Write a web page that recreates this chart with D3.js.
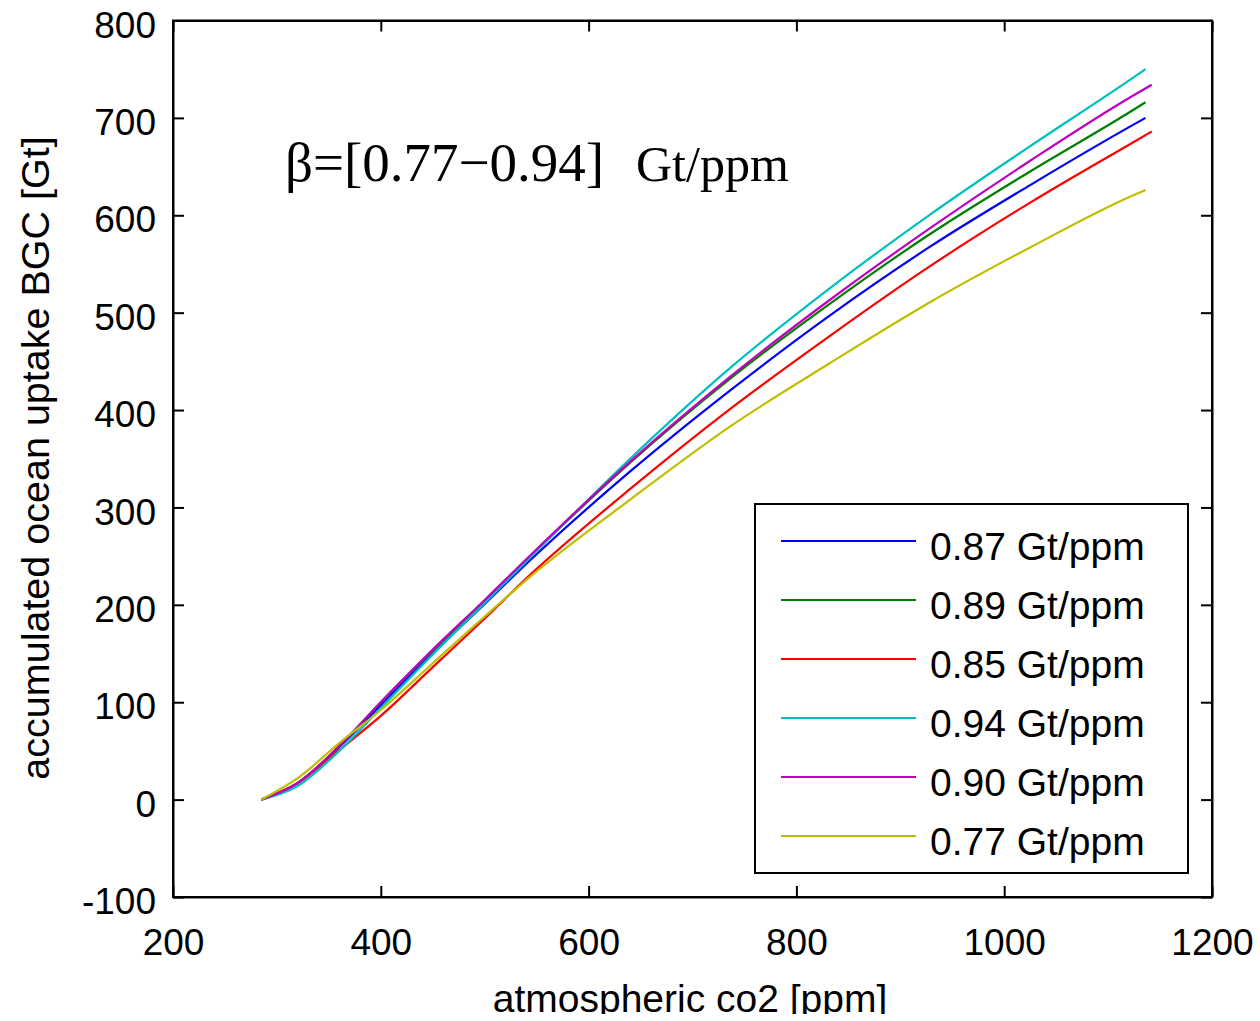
<!DOCTYPE html>
<html>
<head>
<meta charset="UTF-8">
<title>ocean uptake</title>
<script src="https://d3js.org/d3.v7.min.js"></script>
<style>
  * { margin: 0; padding: 0; }
  body { background: #fff; font-family: "Liberation Sans", Arial, sans-serif; }
  .axis text { font-family: "Liberation Sans", Arial, sans-serif; font-size: 37px; fill: #000; }
  .axis line, .axis path { stroke: #000; stroke-width: 2px; }
</style>
</head>
<body>
<div id="chart"></div>
<script>
// co2 grid (ppm) shared by all runs; last point of each run is at endCo2
const co2 = [285, 320, 360, 400, 450, 500, 545, 640, 736, 832, 929, 1025, 1121];
const endCo2 = [1136, 1136, 1142, 1136, 1142, 1136];

const labels = ["0.87 Gt/ppm", "0.89 Gt/ppm", "0.85 Gt/ppm", "0.94 Gt/ppm", "0.90 Gt/ppm", "0.77 Gt/ppm"];
const colors = ["#0000ff", "#008000", "#ff0000", "#00bfbf", "#bf00bf", "#bfbf00"];

const uptake087 = [0, 17, 54, 97, 150, 201, 247, 337, 420, 497, 568, 631, 691, 700];
const uptake089 = [0, 17, 55, 100, 153, 204, 251, 346, 432, 509, 581, 645, 706, 716];
const uptake085 = [0, 17, 51, 86, 136, 186, 232, 319, 401, 476, 548, 613, 673, 686];
const uptake094 = [0, 14, 50, 94, 149, 202, 250, 350, 443, 525, 601, 671, 739, 750];
const uptake090 = [0, 17, 55, 100, 154, 205, 252, 347, 434, 513, 587, 656, 721, 734];
const uptake077 = [0, 22, 58, 92, 140, 188, 230, 308, 383, 448, 511, 567, 619, 626];

const series = [uptake087, uptake089, uptake085, uptake094, uptake090, uptake077];

const xTicks = [200, 400, 600, 800, 1000, 1200];
const yTicks = [-100, 0, 100, 200, 300, 400, 500, 600, 700, 800];

const W = 1260, H = 1021;
const plotL = 173, plotR = 1212, plotT = 20.5, plotB = 897;

const svg = d3.select("#chart").append("svg")
  .attr("width", W).attr("height", H);

svg.append("rect").attr("width", W).attr("height", H).attr("fill", "#fff");

const x = d3.scaleLinear().domain([200, 1200]).range([plotL, plotR]);
const y = d3.scaleLinear().domain([-100, 800]).range([plotB, plotT]);

// curves
const line = d3.line()
  .x(d => x(d[0]))
  .y(d => y(d[1]))
  .curve(d3.curveMonotoneX);

series.forEach((vals, i) => {
  const pts = vals.map((v, j) => [j < co2.length ? co2[j] : endCo2[i], v]);
  svg.append("path")
    .datum(pts)
    .attr("d", line)
    .attr("fill", "none")
    .attr("stroke", colors[i])
    .attr("stroke-width", 2.2);
});

// axes, ticks pointing inward on all four sides
svg.append("g").attr("class", "axis")
  .attr("transform", `translate(0,${plotB})`)
  .call(d3.axisBottom(x).tickValues(xTicks).tickSizeInner(-11).tickSizeOuter(0)
    .tickPadding(32).tickFormat(d => String(d)))
  .selectAll("text").attr("dy", "0.71em");

svg.append("g").attr("class", "axis")
  .attr("transform", `translate(0,${plotT})`)
  .call(d3.axisTop(x).tickValues(xTicks).tickSizeInner(-11).tickSizeOuter(0).tickFormat(""));

svg.append("g").attr("class", "axis")
  .attr("transform", `translate(${plotL},0)`)
  .call(d3.axisLeft(y).tickValues(yTicks).tickSizeInner(-11).tickSizeOuter(0)
    .tickPadding(17).tickFormat(d => String(d)))
  .selectAll("text").attr("dy", "0.45em");

svg.append("g").attr("class", "axis")
  .attr("transform", `translate(${plotR},0)`)
  .call(d3.axisRight(y).tickValues(yTicks).tickSizeInner(-11).tickSizeOuter(0).tickFormat(""));

svg.append("rect")
  .attr("x", plotL).attr("y", plotT)
  .attr("width", plotR - plotL).attr("height", plotB - plotT)
  .attr("fill", "none").attr("stroke", "#000").attr("stroke-width", 2);

// annotation
const ann = svg.append("text")
  .attr("y", 181)
  .style("font-family", "'Liberation Serif', 'Times New Roman', serif")
  .style("fill", "#000");
ann.append("tspan").attr("x", 285).style("font-size", "55px").text("β=[0.77−0.94]");
ann.append("tspan").attr("x", 636).style("font-size", "50px").text("Gt/ppm");

// legend
const lg = svg.append("g");
lg.append("rect")
  .attr("x", 755).attr("y", 504).attr("width", 433).attr("height", 369)
  .attr("fill", "#fff").attr("stroke", "#000").attr("stroke-width", 2);

labels.forEach((lab, i) => {
  const ly = 541 + i * 59;
  lg.append("line")
    .attr("x1", 781).attr("x2", 916).attr("y1", ly).attr("y2", ly)
    .attr("stroke", colors[i]).attr("stroke-width", 2);
  lg.append("text")
    .attr("x", 930).attr("y", ly + 19)
    .style("font-size", "39px").style("fill", "#000")
    .text(lab);
});

// axis titles
svg.append("text")
  .attr("transform", "translate(49,458) rotate(-90)")
  .attr("text-anchor", "middle")
  .style("font-size", "39.5px").style("fill", "#000")
  .text("accumulated ocean uptake BGC [Gt]");

svg.append("text")
  .attr("x", 690).attr("y", 1012)
  .attr("text-anchor", "middle")
  .style("font-size", "39px").style("fill", "#000")
  .text("atmospheric co2 [ppm]");

// the source picture is cut just below the x label
svg.append("rect").attr("x", 0).attr("y", 1014).attr("width", W).attr("height", H - 1014).attr("fill", "#fff");
</script>
</body>
</html>
